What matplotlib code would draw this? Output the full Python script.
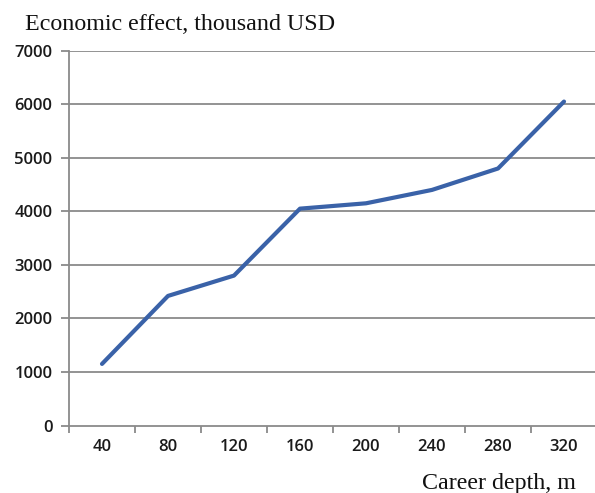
import matplotlib
matplotlib.use("Agg")
import matplotlib.pyplot as plt

depths = ["40", "80", "120", "160", "200", "240", "280", "320"]
effect = [1150, 2420, 2800, 4050, 4150, 4400, 4800, 6050]
y_ticks = [0, 1000, 2000, 3000, 4000, 5000, 6000, 7000]

fig = plt.figure(figsize=(5.95, 4.93), dpi=100)
ax = fig.add_axes([69/595, (493-425.5)/493, (597-69)/595, (425.5-50.7)/493])

x = list(range(len(depths)))
ax.plot(x, effect, color="#3A62A8", linewidth=3.0, solid_capstyle="round", zorder=3)

ax.set_xlim(-0.5, len(depths) - 0.5)
ax.set_ylim(0, 7000)
ax.set_yticks(y_ticks)
ax.set_yticklabels([str(v) for v in y_ticks])
ax.set_xticks(x)
ax.set_xticklabels(depths)
ax.set_xticks([i - 0.5 for i in range(len(depths) + 1)], minor=True)

for v in y_ticks[1:]:
    ax.axhline(v, color="#8a8a8a", linewidth=1.3, zorder=1)

for s in ["top", "right"]:
    ax.spines[s].set_visible(False)
ax.spines["left"].set_color("#8a8a8a")
ax.spines["bottom"].set_color("#8a8a8a")
ax.spines["left"].set_linewidth(1.3)
ax.spines["bottom"].set_linewidth(1.3)

ax.tick_params(axis="y", which="major", length=6, width=1.3, color="#8a8a8a",
               labelsize=12, labelcolor="#1a1a1a", pad=6)
ax.tick_params(axis="x", which="major", length=0, labelsize=12, labelcolor="#1a1a1a", pad=10)
ax.tick_params(axis="x", which="minor", length=5, width=1.3, color="#8a8a8a")
for lab in ax.get_xticklabels() + ax.get_yticklabels():
    lab.set_fontfamily(["Open Sans", "DejaVu Sans"])
    lab.set_fontweight("semibold")

fig.text(25/595, 1 - 30/493, "Economic effect, thousand USD", family="Liberation Serif",
         fontsize=17.3, ha="left", va="baseline", color="#111111")
fig.text(576/595, 1 - 489/493, "Career depth, m", family="Liberation Serif",
         fontsize=17.3, ha="right", va="baseline", color="#111111")

fig.savefig("out.png", dpi=100)
